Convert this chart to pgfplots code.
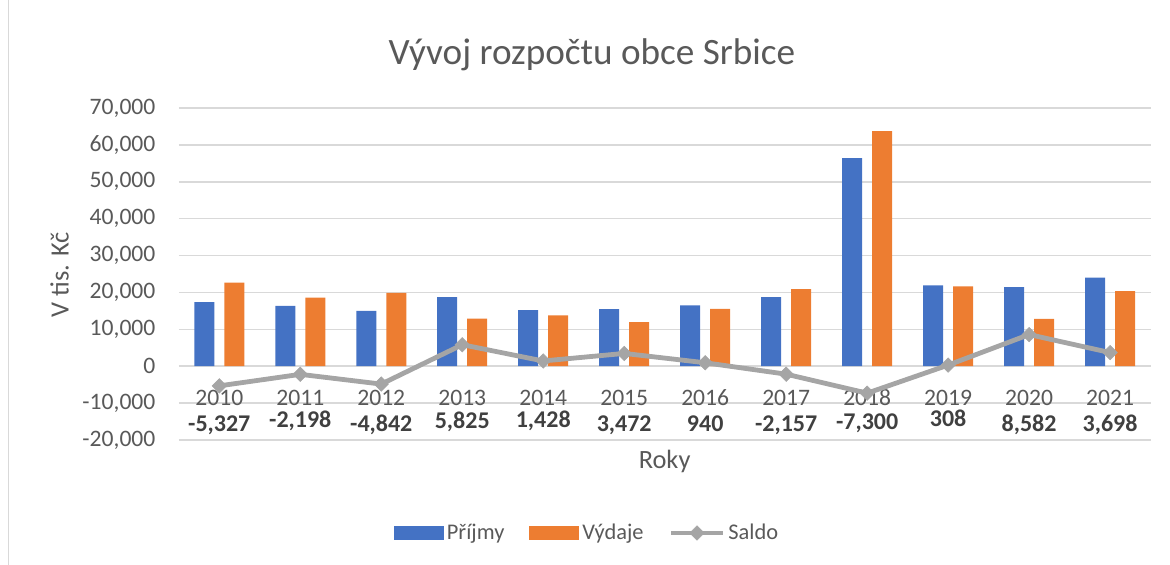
\documentclass[border=0pt]{standalone}
\usepackage{fontspec}
\setmainfont{Carlito}
\usepackage{pgfplots}
\pgfplotsset{compat=1.18}

\definecolor{cblue}{HTML}{4472C4}
\definecolor{corange}{HTML}{ED7D31}
\definecolor{cgray}{HTML}{A5A5A5}
\definecolor{ctext}{HTML}{595959}
\definecolor{cgrid}{HTML}{D9D9D9}
\definecolor{clabel}{HTML}{404040}

\pgfplotsset{
    barlegend/.style={legend image code/.code={\fill[##1] (0pt,-3.5pt) rectangle (25pt,3.5pt);}},
    linelegend/.style={legend image code/.code={\draw[##1, mark repeat=2, mark phase=2]
        plot coordinates {(0pt,0pt) (13pt,0pt) (26pt,0pt)};}},
}

\begin{document}
\begin{tikzpicture}
\path[use as bounding box] (0,0) rectangle (585pt,-282.5pt);
\draw[cgrid, line width=0.75pt] (4.2pt,0) -- (4.2pt,-282.5pt);
\begin{axis}[
    at={(89.4pt,-220pt)}, anchor=south west, scale only axis,
    width=485.9pt, height=166pt,
    xmin=-0.5, xmax=11.5, ymin=-20000, ymax=70000,
    xtick={0,...,11},
    xticklabels={2010,2011,2012,2013,2014,2015,2016,2017,2018,2019,2020,2021},
    ytick={-20000,-10000,0,10000,20000,30000,40000,50000,60000,70000},
    scaled y ticks=false,
    /pgf/number format/1000 sep={,},
    /pgf/number format/assume math mode=true,
    ymajorgrids, grid style={cgrid, line width=0.75pt},
    axis line style={draw=none}, major tick length=0pt,
    tick label style={font=\fontsize{11.8}{13}\selectfont, text=ctext},
    yticklabel style={anchor=east, inner sep=0pt, xshift=-11.5pt},
    xticklabel style={anchor=center, inner sep=0pt, yshift=21pt},
    legend style={at={(0.4206,-0.280)}, anchor=center, legend columns=-1,
        draw=none, fill=none, font=\fontsize{11.2}{13}\selectfont, text=ctext,
        /tikz/every even column/.append style={column sep=11pt},
        nodes={inner sep=1.5pt}},
]

% Prijmy
\addplot[ybar, bar width=10pt, bar shift=-7.5pt, fill=cblue, draw=none, barlegend]
coordinates {
    (0,17350) (1,16370) (2,15030) (3,18700) (4,15190) (5,15450)
    (6,16480) (7,18720) (8,56420) (9,21950) (10,21430) (11,24050)
};
\addlegendentry{Příjmy}

% Vydaje
\addplot[ybar, bar width=10pt, bar shift=7.5pt, fill=corange, draw=none, barlegend]
coordinates {
    (0,22677) (1,18568) (2,19872) (3,12875) (4,13762) (5,11978)
    (6,15540) (7,20877) (8,63720) (9,21642) (10,12848) (11,20352)
};
\addlegendentry{Výdaje}

% Saldo
\addplot[cgray, line width=2.4pt, mark=square*, mark size=2.55pt,
    mark options={line width=0.3pt, fill=cgray, rotate=45}, linelegend]
coordinates {
    (0,-5327) (1,-2198) (2,-4842) (3,5825) (4,1428) (5,3472)
    (6,940) (7,-2157) (8,-7300) (9,308) (10,8582) (11,3698)
};
\addlegendentry{Saldo}

% data labels of Saldo
\addplot[draw=none, mark=none, forget plot, nodes near coords,
    point meta=explicit symbolic,
    nodes near coords style={anchor=center, inner sep=0pt,
        font=\fontsize{12}{14}\selectfont\bfseries, text=clabel}]
coordinates {
    (0,-15990)[-5,327] (1,-14900)[-2,198] (2,-15990)[-4,842]
    (3,-15180)[5,825] (4,-14690)[1,428] (5,-15940)[3,472]
    (6,-15530)[940] (7,-15990)[-2,157] (8,-15400)[-7,300]
    (9,-14230)[308] (10,-15990)[8,582] (11,-15990)[3,698]
};
\end{axis}

\node[text=ctext, font=\fontsize{18.6}{22}\selectfont] at (296pt,-27.5pt) {Vývoj rozpočtu obce Srbice};
\node[text=ctext, font=\fontsize{13.2}{15}\selectfont, rotate=90] at (29.75pt,-137.5pt) {V tis. Kč};
\node[text=ctext, font=\fontsize{13.2}{15}\selectfont] at (332.3pt,-230.8pt) {Roky};
\end{tikzpicture}
\end{document}
